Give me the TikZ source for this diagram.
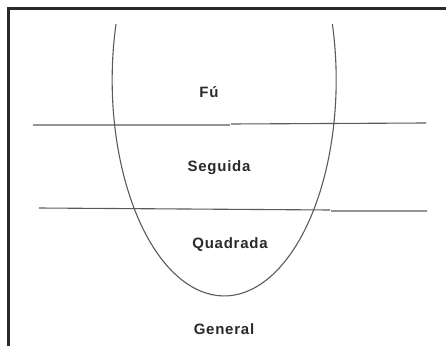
\documentclass[tikz,border=0pt]{standalone}
\usepackage{fontspec}
\setmainfont{Liberation Sans}
\usetikzlibrary{positioning}
\definecolor{ink}{HTML}{2A2A2A}
\definecolor{rule}{HTML}{5A5A5A}

\begin{document}
\begin{tikzpicture}[x=1pt,y=1pt,
    lab/.style={text=ink,font=\addfontfeature{LetterSpace=5}\fontsize{15}{17}\selectfont\bfseries}]
  \useasboundingbox (0,0) rectangle (446,346);
  % frame, cut at right and bottom
  \draw[line width=2.4pt,ink] (8.5,0) -- (8.5,337.5) -- (446,337.5);
  % the cup
  \draw[rule,line width=1.1pt] (116,322) arc[start angle=165,end angle=375,x radius=112,y radius=216];
  % dividing lines
  \coordinate (a1) at (33,221);  \coordinate (a2) at (230,221);
  \coordinate (a3) at (231,222); \coordinate (a4) at (426,223);
  \coordinate (b1) at (39,138);  \coordinate (b2) at (330,136);
  \coordinate (b3) at (331,135); \coordinate (b4) at (427,135);
  \draw[rule,line width=1.1pt] (a1) -- (a2) (a3) -- (a4);
  \draw[rule,line width=1.1pt] (b1) -- (b2) (b3) -- (b4);
  \node[lab] (fu)  at (209,254) {Fú};
  \node[lab] (seg) at (219,178) {Seguida};
  \node[lab] (qua) at (230,101) {Quadrada};
  \node[lab] (gen) at (224,17)  {General};
\end{tikzpicture}
\end{document}
